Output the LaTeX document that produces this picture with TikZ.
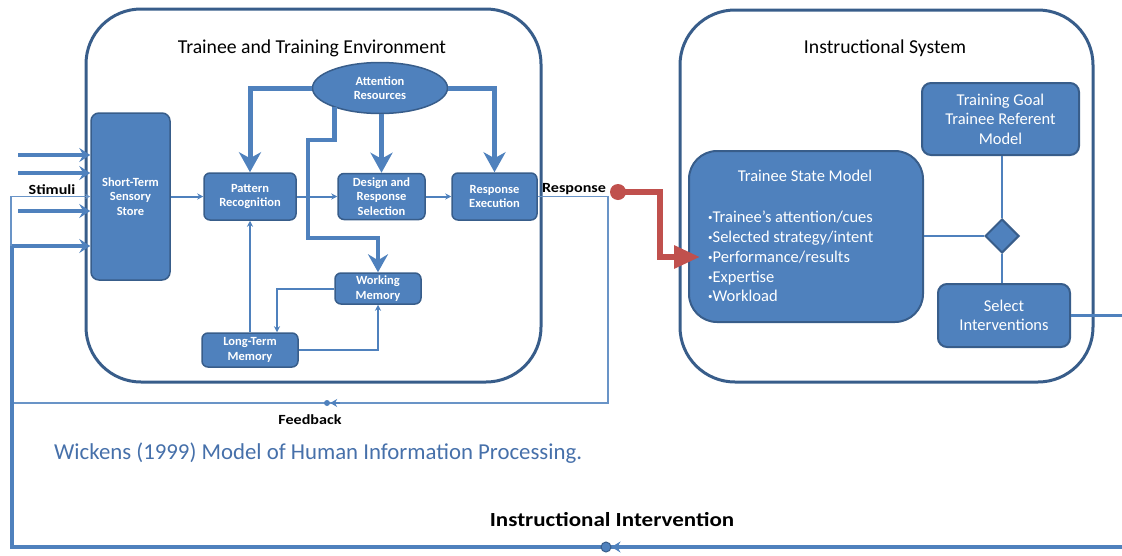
\documentclass[tikz,border=0pt]{standalone}
\usepackage{fontspec}
\setmainfont{Carlito}
\newfontfamily\widefont[FakeStretch=1.15]{Carlito}
\usetikzlibrary{arrows.meta,shapes.geometric,calc}
\definecolor{ofblue}{HTML}{4F81BD}
\definecolor{ofdark}{HTML}{385D8A}
\definecolor{ofred}{HTML}{C0504D}
\definecolor{captc}{RGB}{70,112,170}
\newcommand\mybul{{\fontsize{9}{9}\selectfont\raisebox{2pt}{•}}}
\begin{document}
\begin{tikzpicture}[x=1pt,y=-1pt,
  outer/.style={draw=ofdark, line width=3pt, rounded corners=55pt},
  box/.style={draw=ofdark, line width=1.5pt, fill=ofblue, rounded corners=6pt, text=white,
    font=\fontsize{12.5}{14.5}\selectfont\bfseries, align=center, inner sep=0pt},
  bigbox/.style={draw=ofdark, line width=2pt, fill=ofblue, rounded corners=9pt, text=white,
    font=\fontsize{16.5}{19.5}\selectfont, align=center, inner sep=0pt},
  wtext/.style={text=white, inner sep=0pt},
  lbl/.style={text=black, inner sep=0pt, font=\widefont\fontsize{14}{16}\selectfont\bfseries},
  title/.style={text=black, inner sep=0pt, font=\fontsize{19.7}{22}\selectfont},
  thickarrow/.style={draw=ofblue, line width=5pt, -{Stealth[length=20pt,width=22pt,inset=6pt]}},
  thinarrow/.style={draw=ofblue, line width=2pt, -{Stealth[length=6pt,width=6pt]}},
  thinline/.style={draw=ofblue, line width=2pt},
  fbline/.style={draw=ofblue!85, line width=1.8pt},
  stim/.style={draw=ofblue, line width=3.5pt, -{Stealth[length=11pt,width=14pt,inset=4pt]}},
  loopline/.style={draw=ofblue, line width=3.5pt},
]
\useasboundingbox (0,0) rectangle (1122,555);

% outer containers
\draw[outer] (86,9) rectangle (541,382);
\draw[outer] (680,10) rectangle (1093,382);
\node[title] (t1) at (312,48) {Trainee and Training Environment};
\node[title] (t2) at (885,48) {Instructional System};

% left nodes
\node[box, rounded corners=8pt, minimum width=79pt, minimum height=167pt] (SS) at (130.5,196.5) {Short-Term\\Sensory\\Store};
\node[box, minimum width=92pt, minimum height=47pt] (PR) at (250,196.5) {Pattern\\Recognition};
\node[box, minimum width=87pt, minimum height=46pt] (DRS) at (381.5,196.5) {Design and\\Response\\Selection};
\node[box, minimum width=85pt, minimum height=47pt] (RE) at (494.5,196.5) {Response\\Execution};
\node[box, minimum width=86pt, minimum height=31pt] (WM) at (378,288.5) {Working\\Memory};
\node[box, minimum width=96pt, minimum height=34pt] (LTM) at (250,350) {Long-Term\\Memory};
\node[box, ellipse, minimum width=135pt, minimum height=51pt] (AR) at (380,88) {Attention\\Resources};

% thick attention arrows
\draw[thickarrow] (AR.west) -| (PR.north);
\draw[thickarrow] (AR.east) -| (RE.north);
\draw[thickarrow] (DRS.north |- AR.south) -- (DRS.north);
\coordinate (b1) at (308,140);
\coordinate (b2) at (308,238);
\draw[draw=ofblue, line width=4.5pt, -{Stealth[length=18pt,width=20pt,inset=6pt]}] ([xshift=3pt]AR.south west) |- (b1) -- (b2) -| (WM.north);

% thin connectors
\draw[thinarrow] (SS.east) -- (PR.west);
\draw[thinarrow] (PR.east) -- (DRS.west);
\draw[thinarrow] (DRS.east) -- (RE.west);
\draw[thinarrow] (WM.west) -| ([xshift=27pt]LTM.north);
\draw[thinarrow] (LTM.east) -| (WM.south);
\draw[thinarrow] (LTM.north) -- (PR.south);

% stimuli
\coordinate (s1) at (18,155);
\coordinate (s2) at (18,173);
\coordinate (s3) at (18,211);
\draw[stim] (s1) -- (s1 -| SS.west);
\draw[stim] (s2) -- (s2 -| SS.west);
\draw[stim] (s3) -- (s3 -| SS.west);
\node[lbl] (stimuli) at (52,190) {Stimuli};

% feedback loop
\coordinate (fb1) at (608,403);
\coordinate (fb2) at (11,403);
\draw[fbline, -{Stealth[length=5pt,width=5pt]}] (RE.east) -| (fb1) -- (fb2) |- (SS.west);
\node[circle, fill=ofblue, inner sep=0pt, minimum size=6pt] (fbdot) at (327,403) {};
\draw[draw=ofblue, line width=1.8pt, -{Stealth[length=7pt,width=8pt]}] (340,403) -- (fbdot.east);
\node[lbl] (feedback) at (310,420) {Feedback};
\node[lbl] (response) at (574,189) {Response};

% right nodes
\node[bigbox, rounded corners=28pt, minimum width=234pt, minimum height=171pt] (TSM) at (806,236.5) {};
\node[wtext, font=\fontsize{16.5}{18}\selectfont] (TSMt) at (805,176) {Trainee State Model};
\node[wtext, anchor=west, align=left, font=\fontsize{16.5}{19.8}\selectfont] (TSMb) at (708,256.5)
  {\mybul Trainee’s attention/cues\\\mybul Selected strategy/intent\\\mybul Performance/results\\\mybul Expertise\\\mybul Workload};
\node[bigbox, minimum width=157pt, minimum height=72pt] (TG) at (1000.5,119) {Training Goal\\Trainee Referent\\Model};
\node[draw=ofdark, line width=2pt, fill=ofblue, diamond, minimum width=34pt, minimum height=34pt, inner sep=0pt] (D) at (1002,236) {};
\node[bigbox, minimum width=132pt, minimum height=63pt] (SI) at (1004,315.5) {Select\\Interventions};

\draw[thinline] (TSM.east |- D.west) -- (D.west);
\draw[thinline] (D.north |- TG.south) -- (D.north);
\draw[thinline] (D.south) -- (D.south |- SI.north);

% instructional intervention loop
\coordinate (eR) at (1122,315.5);
\coordinate (eB) at (1122,547);
\coordinate (lb) at (12,547);
\coordinate (s4) at (12,246);
\draw[loopline] (SI.east) -- (eR);
\draw[loopline] (eB) -- (lb) -- (s4);
\draw[stim] (s4) -- (s4 -| SS.west);
\node[circle, fill=ofblue, draw=ofdark, line width=1pt, inner sep=0pt, minimum size=10pt] (iidot) at (606,547) {};
\draw[draw=ofblue, line width=2pt, -{Stealth[length=9pt,width=11pt,inset=3pt]}] (628,547) -- (iidot.east);
\node[text=black, inner sep=0pt, font=\widefont\fontsize{20}{22}\selectfont\bfseries] (ii) at (612,520) {Instructional Intervention};

% response arrow
\node[circle, fill=ofred, inner sep=0pt, minimum size=16pt] (rc) at (618,192) {};
\coordinate (r1) at (660,192);
\coordinate (r2) at (660,257);
\coordinate (rt) at (700,257);
\draw[draw=ofred, line width=6pt, -{Triangle[length=26pt,width=22pt]}] (rc.center) -- (r1) -- (r2) -- (rt);

% caption
\node[anchor=west, text=captc, inner sep=0pt, font=\fontsize{22.8}{26}\selectfont] (cap) at (54,453) {Wickens (1999) Model of Human Information Processing.};
\end{tikzpicture}
\end{document}
